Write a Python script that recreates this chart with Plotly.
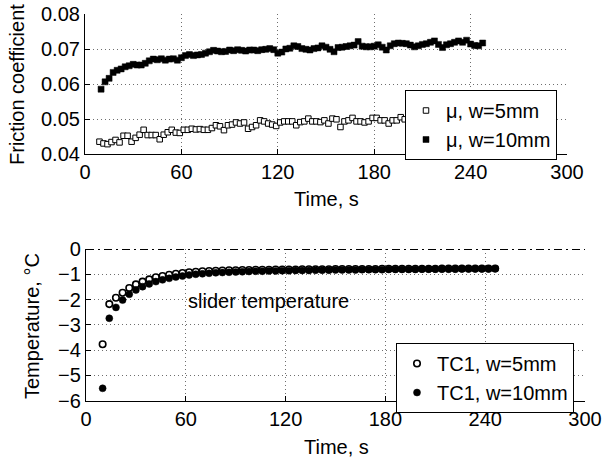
import numpy as np
import plotly.graph_objects as go

# ---------------- data ----------------
# Friction coefficient, w=5mm (open squares), starting t=9 s, every 2.5 s
mu_5mm = [0.0436, 0.0431, 0.0429, 0.0435, 0.0441, 0.0434, 0.0453, 0.0453, 0.0436, 0.0447,
          0.0456, 0.0470, 0.0455, 0.0455, 0.0455, 0.0443, 0.0456, 0.0463, 0.0470, 0.0462,
          0.0461, 0.0470, 0.0470, 0.0473, 0.0471, 0.0472, 0.0470, 0.0470, 0.0475, 0.0483,
          0.0480, 0.0469, 0.0483, 0.0485, 0.0491, 0.0488, 0.0491, 0.0473, 0.0478, 0.0483,
          0.0497, 0.0494, 0.0488, 0.0485, 0.0481, 0.0491, 0.0494, 0.0494, 0.0494, 0.0483,
          0.0492, 0.0494, 0.0502, 0.0494, 0.0494, 0.0492, 0.0497, 0.0488, 0.0502, 0.0500,
          0.0478, 0.0494, 0.0497, 0.0504, 0.0494, 0.0494, 0.0491, 0.0494, 0.0504, 0.0504,
          0.0497, 0.0497, 0.0488, 0.0497, 0.0497, 0.0506, 0.0500, 0.0497, 0.0503, 0.0499,
          0.0505, 0.0496, 0.0502, 0.0507, 0.0498, 0.0503, 0.0500, 0.0508, 0.0501, 0.0497,
          0.0505, 0.0503, 0.0509, 0.0501, 0.0506, 0.0503]
t_mu_5mm = list(9 + 2.5 * np.arange(len(mu_5mm)))

# Friction coefficient, w=10mm (filled squares), starting t=10 s, every 2.5 s
mu_10mm = [0.0586, 0.0607, 0.0617, 0.0634, 0.0640, 0.0644, 0.0650, 0.0653, 0.0657, 0.0655,
           0.0655, 0.0660, 0.0667, 0.0672, 0.0670, 0.0673, 0.0669, 0.0672, 0.0673, 0.0669,
           0.0676, 0.0682, 0.0685, 0.0682, 0.0684, 0.0685, 0.0689, 0.0693, 0.0697, 0.0695,
           0.0693, 0.0694, 0.0698, 0.0696, 0.0699, 0.0697, 0.0695, 0.0698, 0.0698, 0.0696,
           0.0699, 0.0700, 0.0702, 0.0699, 0.0689, 0.0692, 0.0701, 0.0703, 0.0710, 0.0708,
           0.0702, 0.0700, 0.0698, 0.0702, 0.0704, 0.0710, 0.0706, 0.0700, 0.0693, 0.0705,
           0.0706, 0.0708, 0.0710, 0.0712, 0.0722, 0.0709, 0.0707, 0.0707, 0.0709, 0.0713,
           0.0706, 0.0698, 0.0710, 0.0716, 0.0718, 0.0717, 0.0716, 0.0712, 0.0707, 0.0710,
           0.0714, 0.0716, 0.0720, 0.0724, 0.0714, 0.0705, 0.0713, 0.0716, 0.0720, 0.0724,
           0.0720, 0.0726, 0.0715, 0.0711, 0.0710, 0.0718]
t_mu_10mm = list(10 + 2.5 * np.arange(len(mu_10mm)))

# Slider temperature TC1, starting t=10 s, every 4 s
tc1_5mm = [-3.77, -2.18, -1.93, -1.73, -1.54, -1.40, -1.29, -1.20, -1.12, -1.07,
           -1.02, -0.98, -0.95, -0.92, -0.90, -0.88, -0.87, -0.86, -0.85, -0.84,
           -0.84, -0.83, -0.83, -0.82, -0.82, -0.82, -0.81, -0.81, -0.81, -0.81,
           -0.80, -0.80, -0.80, -0.80, -0.80, -0.79, -0.79, -0.79, -0.79, -0.79,
           -0.79, -0.79, -0.78, -0.78, -0.78, -0.78, -0.78, -0.78, -0.78, -0.78,
           -0.78, -0.77, -0.77, -0.77, -0.77, -0.77, -0.77, -0.77, -0.77, -0.77]
tc1_10mm = [-5.51, -2.74, -2.31, -2.02, -1.79, -1.62, -1.49, -1.38, -1.29, -1.22,
            -1.16, -1.11, -1.07, -1.03, -1.00, -0.98, -0.96, -0.94, -0.93, -0.92,
            -0.91, -0.90, -0.89, -0.88, -0.88, -0.87, -0.87, -0.86, -0.86, -0.85,
            -0.85, -0.85, -0.84, -0.84, -0.84, -0.83, -0.83, -0.83, -0.83, -0.82,
            -0.82, -0.82, -0.82, -0.81, -0.81, -0.81, -0.81, -0.81, -0.80, -0.80,
            -0.80, -0.80, -0.80, -0.80, -0.79, -0.79, -0.79, -0.79, -0.79, -0.78]
t_tc1 = list(10 + 4 * np.arange(len(tc1_5mm)))

time_ticks = [0, 60, 120, 180, 240, 300]
mu_ticks = [0.04, 0.05, 0.06, 0.07, 0.08]
temp_ticks = [0, -1, -2, -3, -4, -5, -6]

# ---------------- figure ----------------
W, H = 602, 462
FONT = "Liberation Sans, Arial, Helvetica, sans-serif"
FS = 20

fig = go.Figure()

fig.add_trace(go.Scatter(x=t_mu_5mm, y=mu_5mm, mode="markers", name="μ, w=5mm",
                         marker=dict(symbol="square", size=5.5, color="white",
                                     line=dict(color="black", width=1)),
                         xaxis="x", yaxis="y", legend="legend"))
fig.add_trace(go.Scatter(x=t_mu_10mm, y=mu_10mm, mode="markers", name="μ, w=10mm",
                         marker=dict(symbol="square", size=6, color="black",
                                     line=dict(color="black", width=0.5)),
                         xaxis="x", yaxis="y", legend="legend"))
fig.add_trace(go.Scatter(x=t_tc1, y=tc1_5mm, mode="markers", name="TC1, w=5mm",
                         marker=dict(symbol="circle", size=6.5, color="white",
                                     line=dict(color="black", width=1.6)),
                         xaxis="x2", yaxis="y2", legend="legend2"))
fig.add_trace(go.Scatter(x=t_tc1, y=tc1_10mm, mode="markers", name="TC1, w=10mm",
                         marker=dict(symbol="circle", size=7, color="black",
                                     line=dict(color="black", width=0.5)),
                         xaxis="x2", yaxis="y2", legend="legend2"))

def px_dom(a, b, total):
    return [a / total, b / total]

axis_common = dict(showline=True, linecolor="black", linewidth=1.2,
                   ticks="inside", ticklen=5, tickcolor="black", tickwidth=1,
                   showgrid=True, gridcolor="#6e6e6e", griddash="1px,3px", gridwidth=1,
                   zeroline=False, mirror=False, automargin=False,
                   tickfont=dict(family=FONT, size=FS, color="black"))

fig.update_layout(
    width=W, height=H,
    margin=dict(l=0, r=0, t=0, b=0, autoexpand=False),
    paper_bgcolor="white", plot_bgcolor="white",
    font=dict(family=FONT, size=FS, color="black"),
    xaxis=dict(domain=px_dom(85, 567, W), range=[0, 300], tickvals=time_ticks,
               anchor="y", **axis_common),
    yaxis=dict(domain=[1 - 154.3 / H, 1 - 14.3 / H], range=[0.04, 0.08],
               tickvals=mu_ticks, tickformat=".2f", anchor="x", **axis_common),
    xaxis2=dict(domain=px_dom(86, 585, W), range=[0, 300], tickvals=time_ticks,
                anchor="y2", **axis_common),
    yaxis2=dict(domain=[1 - 400.7 / H, 1 - 249 / H], range=[-6, 0],
                tickvals=temp_ticks, anchor="x2", **axis_common),
    legend=dict(x=405 / W, y=1 - 90 / H, xanchor="left", yanchor="top",
                bgcolor="white", bordercolor="black", borderwidth=1,
                font=dict(family=FONT, size=FS, color="black"),
                tracegroupgap=0),
    legend2=dict(x=396 / W, y=1 - 343 / H, xanchor="left", yanchor="top",
                 bgcolor="white", bordercolor="black", borderwidth=1,
                 font=dict(family=FONT, size=FS, color="black"),
                 tracegroupgap=0),
    showlegend=True,
)

# dash-dot reference line at 0 degC
fig.add_shape(type="line", xref="x2", yref="y2", x0=0, x1=300, y0=0, y1=0,
              line=dict(color="black", width=2, dash="8px,4px,2px,4px"))

ann = [
    dict(text="Friction coefficient", x=17 / W, y=1 - 85 / H, textangle=-90),
    dict(text="Temperature, °C", x=32 / W, y=1 - 326 / H, textangle=-90),
    dict(text="Time, s", x=326 / W, y=1 - 199 / H),
    dict(text="Time, s", x=336 / W, y=1 - 447 / H),
]
for a in ann:
    fig.add_annotation(xref="paper", yref="paper", showarrow=False,
                       xanchor="center", yanchor="middle",
                       font=dict(family=FONT, size=FS, color="black"), **a)

fig.add_annotation(xref="x2", yref="y2", x=60, y=-2.05, text="slider temperature",
                   showarrow=False, xanchor="left", yanchor="middle",
                   font=dict(family=FONT, size=FS, color="black"))

fig.write_html("out.html")
